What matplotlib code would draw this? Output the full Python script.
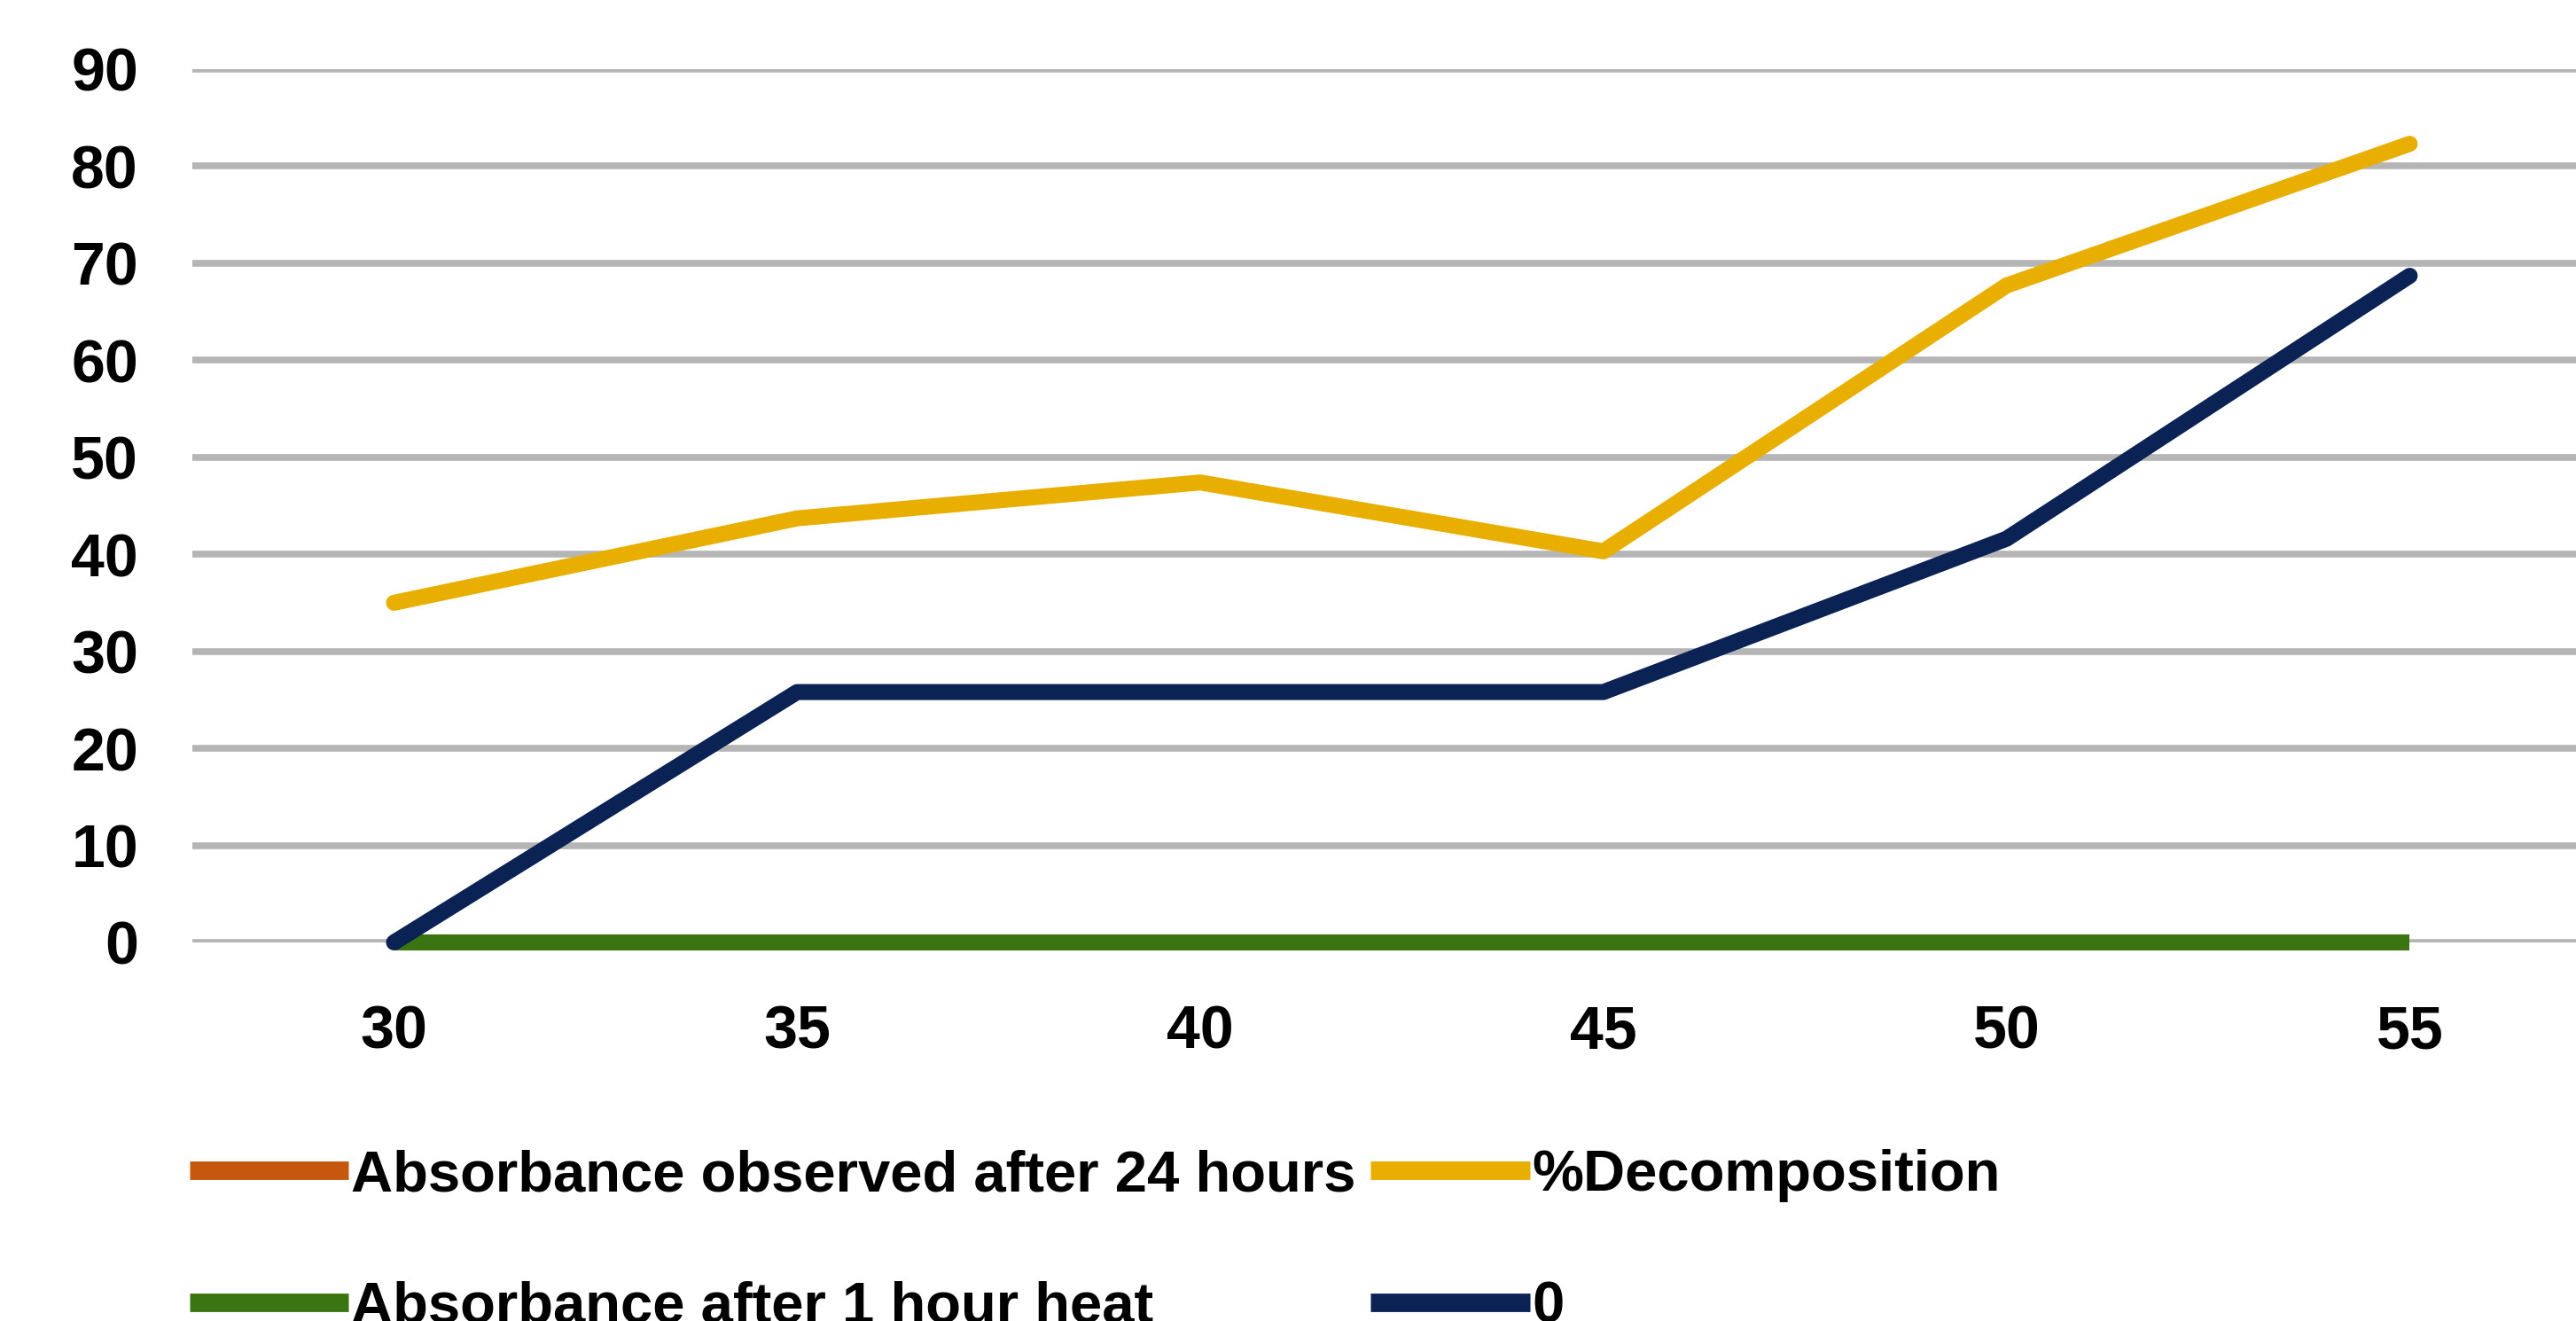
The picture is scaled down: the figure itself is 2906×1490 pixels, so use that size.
import matplotlib.pyplot as plt
from matplotlib.lines import Line2D

temps = ["30", "35", "40", "45", "50", "55"]
abs_24h = [0, 0, 0, 0, 0, 0]
abs_1h = [0, 0, 0, 0, 0, 0]
decomp = [35.0, 43.7, 47.4, 40.3, 67.7, 82.3]
zero_series = [0, 25.8, 25.8, 25.8, 41.6, 68.7]
yticks = [0, 10, 20, 30, 40, 50, 60, 70, 80, 90]

names = ["Absorbance observed after 24 hours", "%Decomposition",
         "Absorbance after 1 hour heat", "0"]
colors = ["#C5570E", "#E8AF00", "#3B7511", "#0B2255"]

plt.rcParams['font.family'] = ['Liberation Sans', 'DejaVu Sans']
plt.rcParams['font.weight'] = 'bold'

fig = plt.figure(figsize=(29.06, 14.90), dpi=100)
ax = fig.add_axes([0.0747, 0.2866, 0.939, 0.6611])

x = range(len(temps))
lw = 13
ax.plot(x, abs_24h, color=colors[0], lw=lw, solid_capstyle="butt", clip_on=False)
ax.plot(x, decomp, color=colors[1], lw=lw, solid_capstyle="round", clip_on=False)
ax.plot(x, abs_1h, color=colors[2], lw=lw, solid_capstyle="butt", clip_on=False)
ax.plot(x, zero_series, color=colors[3], lw=lw, solid_capstyle="round", clip_on=False)

ax.set_xlim(-0.5, 5.5)
ax.set_ylim(0, 90)
ax.set_xticks(list(x))
ax.set_xticklabels(temps)
ax.set_yticks(yticks)
ax.grid(axis="y", color="#B5B5B5", lw=5.5)
ax.set_axisbelow(True)
for s in ax.spines.values():
    s.set_visible(False)
ax.tick_params(axis="both", length=0, labelsize=49, colors="black")
ax.tick_params(axis="x", pad=50)
ax.tick_params(axis="y", pad=44)

# legend handles: thick flat bars like Excel
handles = [Line2D([], [], color=c, lw=15, solid_capstyle="butt") for c in colors]
order = [0, 2, 1, 3]
fig.legend(handles=[handles[i] for i in order], labels=[names[i] for i in order],
           loc="upper left", bbox_to_anchor=(0.0735, 0.13),
           ncol=2, frameon=False, fontsize=47, handlelength=2.75, handletextpad=0.05,
           columnspacing=0.25, labelspacing=1.35, borderpad=0, borderaxespad=0)

fig.savefig("out.png", dpi=100)
